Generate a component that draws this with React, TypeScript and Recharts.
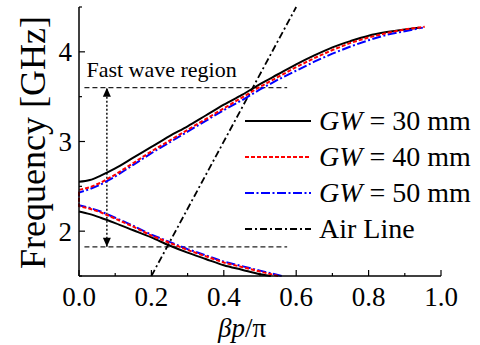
import { LineChart, Line, XAxis, YAxis, ReferenceLine } from "recharts"

if (typeof document !== "undefined") document.body.style.margin = "0"

const serif = "Liberation Serif, DejaVu Serif, serif"

// axis ticks
const xTicks = [0, 0.1, 0.2, 0.3, 0.4, 0.5, 0.6, 0.7, 0.8, 0.9, 1.0]
const xMajor = [0, 0.2, 0.4, 0.6, 0.8, 1.0]
const yTicks = [1.5, 2, 2.5, 3, 3.5, 4, 4.5]
const yMajor = [2, 3, 4]

// dispersion curves [βp/π, GHz]
const gw30Upper = [
  [0, 2.55], [0.03, 2.57], [0.06, 2.62], [0.1, 2.7], [0.15, 2.82], [0.2, 2.94],
  [0.25, 3.06], [0.3, 3.17], [0.35, 3.29], [0.4, 3.41], [0.45, 3.52], [0.5, 3.64],
  [0.55, 3.75], [0.6, 3.86], [0.65, 3.96], [0.7, 4.05], [0.75, 4.12], [0.8, 4.18],
  [0.85, 4.22], [0.9, 4.25], [0.94, 4.27],
]
const gw30Lower = [
  [0, 2.22], [0.03, 2.19], [0.06, 2.15], [0.1, 2.09], [0.15, 2.01], [0.2, 1.93],
  [0.25, 1.84], [0.3, 1.76], [0.35, 1.69], [0.4, 1.62], [0.45, 1.57], [0.5, 1.52], [0.53, 1.5],
]
const gw40Upper = [
  [0, 2.46], [0.03, 2.49], [0.06, 2.54], [0.1, 2.63], [0.15, 2.76], [0.2, 2.89],
  [0.25, 3.01], [0.3, 3.13], [0.35, 3.25], [0.4, 3.37], [0.45, 3.49], [0.5, 3.61],
  [0.55, 3.72], [0.6, 3.83], [0.65, 3.93], [0.7, 4.02], [0.75, 4.1], [0.8, 4.16],
  [0.85, 4.21], [0.9, 4.25], [0.955, 4.28],
]
const gw40Lower = [
  [0, 2.28], [0.03, 2.25], [0.06, 2.21], [0.1, 2.14], [0.15, 2.05], [0.2, 1.95],
  [0.25, 1.87], [0.3, 1.79], [0.35, 1.72], [0.4, 1.65], [0.45, 1.6], [0.5, 1.55], [0.55, 1.5],
]
const gw50Upper = [
  [0, 2.43], [0.03, 2.47], [0.06, 2.52], [0.1, 2.61], [0.15, 2.74], [0.2, 2.87],
  [0.25, 2.99], [0.3, 3.11], [0.35, 3.23], [0.4, 3.35], [0.45, 3.46], [0.5, 3.58],
  [0.55, 3.69], [0.6, 3.79], [0.65, 3.89], [0.7, 3.98], [0.75, 4.06], [0.8, 4.13],
  [0.85, 4.19], [0.9, 4.23], [0.95, 4.27],
]
const gw50Lower = [
  [0, 2.29], [0.03, 2.26], [0.06, 2.22], [0.1, 2.15], [0.15, 2.06], [0.2, 1.96],
  [0.25, 1.88], [0.3, 1.8], [0.35, 1.73], [0.4, 1.66], [0.45, 1.61], [0.5, 1.56], [0.56, 1.5],
]
const airLine = [[0.2, 1.5], [0.6, 4.5]]

// fast wave region markers
const fastLow = 1.825
const fastHigh = 3.6
const fastX = [0.015, 0.575]
const arrowX = 0.077

const pts = (pairs: number[][]) => pairs.map(([x, y]) => ({ x, y }))
const joined = (lower: number[][], upper: number[][]) => pts([...lower].reverse().concat(upper))

const legendItems = [
  { label: "30", color: "#000", dash: undefined, width: 2 },
  { label: "40", color: "#ff0000", dash: "4 2", width: 2 },
  { label: "50", color: "#0000ff", dash: "9 2.5 2 2.5", width: 2 },
  { label: "Air Line", color: "#000", dash: "7 3 2 3", width: 1.8 },
]

function XTick(props: any) {
  const { x, y, payload } = props
  const major = xMajor.includes(payload.value)
  return (
    <g>
      <line x1={x} x2={x} y1={y} y2={y - (major ? 6 : 3)} stroke="#000" strokeWidth={1.2} />
      {major && (
        <text x={x} y={y + 30} textAnchor="middle" fontSize={27} fontFamily={serif} fill="#000">
          {payload.value.toFixed(1)}
        </text>
      )}
    </g>
  )
}

function YTick(props: any) {
  const { x, y, payload } = props
  const major = yMajor.includes(payload.value)
  return (
    <g>
      <line x1={x} x2={x + (major ? 6 : 3)} y1={y} y2={y} stroke="#000" strokeWidth={1.2} />
      {major && (
        <text x={x - 7} y={y + 9.5} textAnchor="end" fontSize={27} fontFamily={serif} fill="#000">
          {payload.value}
        </text>
      )}
    </g>
  )
}

function ArrowHead(props: any) {
  const { cx, cy, index } = props
  const d = index === 0 ? -9 : 9
  return <polygon key={index} points={`${cx},${cy} ${cx - 4},${cy + d} ${cx + 4},${cy + d}`} fill="#000" />
}

export default function App() {
  return (
    <div style={{ position: "relative", width: 480, height: 345, background: "#fff" }}>
      <LineChart width={480} height={345} margin={{ top: 7, right: 39, bottom: 0, left: 0 }}>
        <XAxis
          type="number"
          dataKey="x"
          domain={[0, 1]}
          ticks={xTicks}
          interval={0}
          tickSize={0}
          tickMargin={0}
          tickLine={false}
          tick={<XTick />}
          height={69}
          axisLine={{ stroke: "#000", strokeWidth: 1.5 }}
          label={{
            content: (p: any) => {
              const vb = p.viewBox
              return (
                <text x={vb.x + vb.width / 2 - 18} y={vb.y + 61} textAnchor="middle" fontSize={27} fontFamily={serif} fill="#000">
                  <tspan fontStyle="italic">βp</tspan>/π
                </text>
              )
            },
          }}
        />
        <YAxis
          type="number"
          domain={[1.5, 4.5]}
          ticks={yTicks}
          interval={0}
          tickSize={0}
          tickMargin={0}
          tickLine={false}
          tick={<YTick />}
          width={79}
          axisLine={{ stroke: "#000", strokeWidth: 1.5 }}
          label={{
            content: (p: any) => {
              const vb = p.viewBox
              const cx = 45
              const cy = vb.y + vb.height / 2 + 1
              return (
                <text x={cx} y={cy} transform={`rotate(-90, ${cx}, ${cy})`} textAnchor="middle" fontSize={36} fontFamily={serif} fill="#000">
                  Frequency [GHz]
                </text>
              )
            },
          }}
        />
        <ReferenceLine
          segment={[{ x: fastX[0], y: fastHigh }, { x: fastX[1], y: fastHigh }]}
          stroke="#222"
          strokeWidth={1.2}
          strokeDasharray="5 3"
          label={{
            content: (p: any) => (
              <text x={p.viewBox.x + 2} y={p.viewBox.y - 11} fontSize={22} fontFamily={serif} fill="#000">
                Fast wave region
              </text>
            ),
          }}
        />
        <ReferenceLine
          segment={[{ x: fastX[0], y: fastLow }, { x: fastX[1], y: fastLow }]}
          stroke="#222"
          strokeWidth={1.2}
          strokeDasharray="5 3"
        />
        <Line
          data={pts([[arrowX, fastLow], [arrowX, fastHigh]])}
          dataKey="y"
          stroke="#000"
          strokeWidth={1.4}
          strokeDasharray="2 2"
          dot={<ArrowHead />}
          isAnimationActive={false}
        />
        <Line data={pts(airLine)} dataKey="y" stroke="#000" strokeWidth={1.8} strokeDasharray="7 3 2 3" dot={false} isAnimationActive={false} />
        <Line data={pts(gw30Upper)} dataKey="y" type="monotone" stroke="#000" strokeWidth={2} dot={false} isAnimationActive={false} />
        <Line data={pts(gw30Lower)} dataKey="y" type="monotone" stroke="#000" strokeWidth={2} dot={false} isAnimationActive={false} />
        <Line data={joined(gw50Lower, gw50Upper)} dataKey="y" stroke="#0000ff" strokeWidth={2} strokeDasharray="9 2.5 2 2.5" dot={false} isAnimationActive={false} />
        <Line data={joined(gw40Lower, gw40Upper)} dataKey="y" stroke="#ff0000" strokeWidth={2} strokeDasharray="4 2" dot={false} isAnimationActive={false} />
      </LineChart>
      <div style={{ position: "absolute", left: 245, top: 103, fontFamily: serif, fontSize: 28, color: "#000" }}>
        {legendItems.map((it) => (
          <div key={it.label} style={{ display: "flex", alignItems: "center", height: 36, lineHeight: "36px", whiteSpace: "nowrap" }}>
            <svg width={66} height={36} style={{ display: "block" }}>
              <line x1={0} x2={66} y1={18} y2={18} stroke={it.color} strokeWidth={it.width} strokeDasharray={it.dash} />
            </svg>
            <span style={{ marginLeft: 8 }}>
              {it.label === "Air Line" ? (
                "Air Line"
              ) : (
                <>
                  <i>GW</i> = {it.label} mm
                </>
              )}
            </span>
          </div>
        ))}
      </div>
    </div>
  )
}
